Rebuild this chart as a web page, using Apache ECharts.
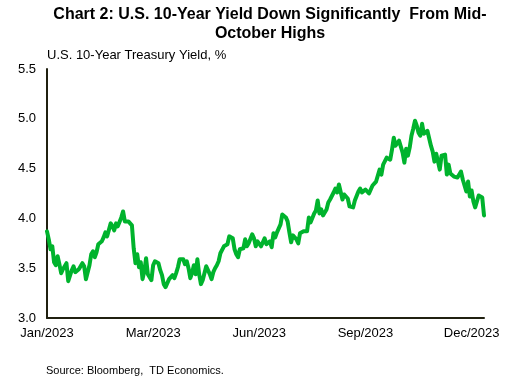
<!DOCTYPE html>
<html>
<head>
<meta charset="utf-8">
<script src="https://cdn.jsdelivr.net/npm/echarts@6/dist/echarts.min.js"></script>
<style>html,body{margin:0;padding:0;background:#fff}#c{width:516px;height:385px}</style>
</head>
<body>
<div id="c"></div>
<script>
// Weekday series from 2023-01-02 to 2023-12-13 (holidays carry previous value)
const startDate = '2023-01-02';
const yieldValues = [
  3.87,3.79,3.69,3.72,3.56,
  3.53,3.62,3.54,3.45,3.49,
  3.49,3.55,3.37,3.39,3.48,
  3.52,3.46,3.45,3.49,3.52,
  3.55,3.52,3.39,3.40,3.53,
  3.64,3.67,3.61,3.66,3.74,
  3.72,3.77,3.81,3.86,3.82,
  3.82,3.95,3.92,3.88,3.95,
  3.92,3.92,4.01,4.07,3.97,
  3.98,3.97,3.99,3.93,3.70,
  3.55,3.64,3.51,3.56,3.39,
  3.47,3.60,3.44,3.42,3.38,
  3.53,3.57,3.55,3.55,3.48,
  3.43,3.34,3.31,3.29,3.39,
  3.41,3.43,3.40,3.45,3.51,
  3.59,3.58,3.59,3.54,3.57,
  3.50,3.40,3.45,3.53,3.44,
  3.59,3.44,3.34,3.38,3.45,
  3.52,3.52,3.44,3.39,3.46,
  3.50,3.53,3.57,3.65,3.67,
  3.72,3.70,3.74,3.82,3.80,
  3.80,3.69,3.64,3.61,3.69,
  3.68,3.70,3.79,3.72,3.75,
  3.76,3.84,3.80,3.72,3.77,
  3.77,3.72,3.72,3.80,3.74,
  3.72,3.77,3.71,3.85,3.81,
  3.86,3.86,3.94,4.04,4.06,
  4.01,3.97,3.86,3.76,3.83,
  3.81,3.79,3.75,3.85,3.84,
  3.87,3.89,3.87,4.01,3.96,
  3.97,4.05,4.08,4.18,4.05,
  4.09,4.03,4.01,4.09,4.16,
  4.19,4.21,4.26,4.30,4.26,
  4.34,4.33,4.19,4.24,4.25,
  4.20,4.12,4.12,4.11,4.18,
  4.18,4.27,4.30,4.26,4.26,
  4.29,4.29,4.25,4.29,4.33,
  4.32,4.37,4.35,4.49,4.44,
  4.54,4.56,4.61,4.59,4.59,
  4.69,4.81,4.73,4.72,4.78,
  4.78,4.66,4.56,4.70,4.63,
  4.71,4.83,4.90,4.98,4.93,
  4.86,4.83,4.95,4.85,4.84,
  4.88,4.88,4.73,4.67,4.57,
  4.65,4.57,4.49,4.63,4.65,
  4.64,4.44,4.54,4.45,4.44,
  4.42,4.40,4.41,4.41,4.47,
  4.39,4.33,4.27,4.37,4.22,
  4.28,4.17,4.11,4.13,4.23,
  4.24,4.21,4.03
];
const yTicks = [3.0, 3.5, 4.0, 4.5, 5.0, 5.5];
const xLabelEvery = 60;
const monthNames = ['Jan','Feb','Mar','Apr','May','Jun','Jul','Aug','Sep','Oct','Nov','Dec'];
const titleLines = ['Chart 2: U.S. 10-Year Yield Down Significantly  From Mid-', 'October Highs'];
const yAxisTitle = 'U.S. 10-Year Treasury Yield, %';
const sourceNote = 'Source: Bloomberg,  TD Economics.';

// build weekday date categories
const categories = [];
{
  let d = new Date(startDate + 'T00:00:00Z');
  while (categories.length < yieldValues.length) {
    const wd = d.getUTCDay();
    if (wd !== 0 && wd !== 6) categories.push(monthNames[d.getUTCMonth()] + '/' + d.getUTCFullYear());
    d.setUTCDate(d.getUTCDate() + 1);
  }
}

const chart = echarts.init(document.getElementById('c'));
const FONT = '"Liberation Sans", Arial, sans-serif';
chart.setOption({
  animation: false,
  backgroundColor: '#ffffff',
  title: {
    text: titleLines.join('\n'),
    left: 265,
    top: 0,
    textAlign: 'center',
    textStyle: { fontFamily: FONT, fontWeight: 'bold', fontSize: 16, color: '#000', lineHeight: 19 }
  },
  graphic: [{
    type: 'text', left: 46, top: 365,
    style: { text: sourceNote, fontFamily: FONT, fontSize: 11, fill: '#000' }
  }],
  grid: { left: 47, right: 32, top: 69, bottom: 67, containLabel: false },
  xAxis: {
    type: 'category',
    data: categories,
    boundaryGap: false,
    axisLine: { show: true, lineStyle: { color: '#202010', width: 2 } },
    axisTick: { show: false },
    axisLabel: {
      interval: (i) => i % xLabelEvery === 0,
      hideOverlap: false,
      margin: 9, color: '#000', fontFamily: FONT, fontSize: 13
    },
    splitLine: { show: false }
  },
  yAxis: {
    type: 'value',
    min: yTicks[0], max: yTicks[yTicks.length - 1], interval: 0.5,
    name: yAxisTitle,
    nameLocation: 'end',
    nameGap: 7,
    nameTextStyle: { align: 'left', color: '#000', fontFamily: FONT, fontSize: 13 },
    axisLine: { show: true, lineStyle: { color: '#202010', width: 2 } },
    axisTick: { show: false },
    axisLabel: { margin: 11, color: '#000', fontFamily: FONT, fontSize: 13, formatter: v => v.toFixed(1) },
    splitLine: { show: false }
  },
  series: [{
    type: 'line',
    data: yieldValues,
    showSymbol: false,
    symbol: 'none',
    lineStyle: { color: '#00b32d', width: 4, join: 'round', cap: 'round' },
    z: 3
  }]
});
</script>
</body>
</html>
